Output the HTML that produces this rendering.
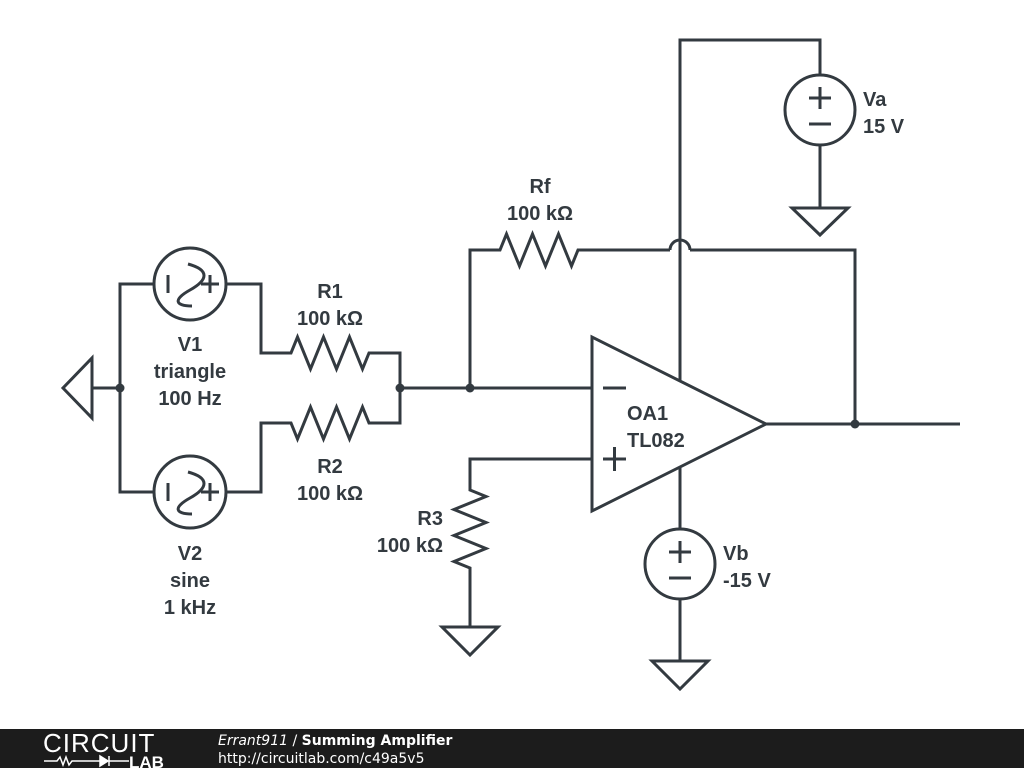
<!DOCTYPE html>
<html><head><meta charset="utf-8"><style>
html,body{margin:0;padding:0;background:#fff;width:1024px;height:768px;overflow:hidden}
svg{display:block}
text{font-family:"Liberation Sans",Arial,sans-serif;font-weight:bold;font-size:20px;fill:#333a40}
</style></head><body>
<svg width="1024" height="768" viewBox="0 0 1024 768">
<g stroke="#333a40" stroke-width="3" fill="none" stroke-linejoin="miter">
<polygon points="92,358 92,418 63,388"/>
<line x1="92" y1="388" x2="120" y2="388"/>
<polyline points="154,284 120,284 120,492 154,492"/>
<circle cx="190" cy="284" r="36"/>
<line x1="168" y1="275" x2="168" y2="293"/>
<path d="M188,264 C210,270 208,280 190,290 C172,300 176,306 192,306"/>
<line x1="201" y1="284" x2="219" y2="284"/><line x1="210" y1="275" x2="210" y2="293"/>
<circle cx="190" cy="492" r="36"/>
<line x1="168" y1="483" x2="168" y2="501"/>
<path d="M188,472 C210,478 208,488 190,498 C172,508 176,514 192,514"/>
<line x1="201" y1="492" x2="219" y2="492"/><line x1="210" y1="483" x2="210" y2="501"/>
<polyline points="226,284 261,284 261,353 291,353 297.5,337 310.5,369 323.5,337 336.5,369 349.5,337 362.5,369 369,353 400,353 400,423 369,423 362.5,407 349.5,439 336.5,407 323.5,439 310.5,407 297.5,439 291,423 261,423 261,492 226,492"/>
<line x1="400" y1="388" x2="592" y2="388"/>
<polyline points="470,388 470,250 500,250 506.5,234 519.5,266 532.5,234 545.5,266 558.5,234 571.5,266 578,250 670,250"/>
<path d="M670,250 A10,10 0 0 1 690,250"/>
<polyline points="690,250 855,250 855,424"/>
<polygon points="592,337 592,511 766,424"/>
<line x1="603" y1="388" x2="626" y2="388"/>
<line x1="603" y1="459" x2="626" y2="459"/><line x1="614.5" y1="447" x2="614.5" y2="471"/>
<line x1="766" y1="424" x2="960" y2="424"/>
<polyline points="592,459 470,459 470,490 486,496.5 454,509.5 486,522.5 454,535.5 486,548.5 454,561.5 470,568 470,627"/>
<polygon points="442,627 498,627 470,655"/>
<polyline points="680,380 680,40 820,40 820,75"/>
<circle cx="820" cy="110" r="35"/>
<line x1="809" y1="98" x2="831" y2="98"/><line x1="820" y1="87" x2="820" y2="109"/>
<line x1="809" y1="124" x2="831" y2="124"/>
<line x1="820" y1="145" x2="820" y2="208"/>
<polygon points="792,208 848,208 820,235"/>
<line x1="680" y1="468" x2="680" y2="529"/>
<circle cx="680" cy="564" r="35"/>
<line x1="669" y1="552" x2="691" y2="552"/><line x1="680" y1="541" x2="680" y2="563"/>
<line x1="669" y1="578" x2="691" y2="578"/>
<line x1="680" y1="599" x2="680" y2="661"/>
<polygon points="652,661 708,661 680,689"/>
</g>
<g fill="#333a40">
<circle cx="120" cy="388" r="4.5"/><circle cx="400" cy="388" r="4.5"/>
<circle cx="470" cy="388" r="4.5"/><circle cx="855" cy="424" r="4.5"/>
</g>
<g text-anchor="middle">
<text x="540" y="193">Rf</text><text x="540" y="220">100 kΩ</text>
<text x="330" y="298">R1</text><text x="330" y="325">100 kΩ</text>
<text x="190" y="351">V1</text><text x="190" y="378">triangle</text><text x="190" y="405">100 Hz</text>
<text x="330" y="473">R2</text><text x="330" y="500">100 kΩ</text>
<text x="190" y="560">V2</text><text x="190" y="587">sine</text><text x="190" y="614">1 kHz</text>
</g>
<g text-anchor="end">
<text x="443" y="525">R3</text><text x="443" y="552">100 kΩ</text>
</g>
<text x="627" y="420">OA1</text><text x="627" y="447">TL082</text>
<text x="863" y="106">Va</text><text x="863" y="133">15 V</text>
<text x="723" y="560">Vb</text><text x="723" y="587">-15 V</text>
<rect x="0" y="729" width="1024" height="39" fill="#1c1c1c"/>
<text x="43" y="752" style="font-weight:normal;font-size:26px;fill:#fff;letter-spacing:1px">CIRCUIT</text>
<g stroke="#fff" stroke-width="1.5" fill="none">
<polyline points="44,761 57,761 60,757 63,765 66,757 69,765 72,761 100,761"/>
<polygon points="100,756 100,766 108,761" fill="#fff"/>
<line x1="109" y1="756" x2="109" y2="766"/><line x1="109" y1="761" x2="129" y2="761"/>
</g>
<text x="129" y="768" style="font-size:17px;fill:#fff">LAB</text>
<text x="218" y="745" style="font-family:'DejaVu Sans',sans-serif;font-size:14px;fill:#fff;font-weight:normal"><tspan font-style="italic">Errant911</tspan> / <tspan font-weight="bold">Summing Amplifier</tspan></text>
<text x="218" y="763" style="font-family:'DejaVu Sans',sans-serif;font-size:14px;fill:#fff;font-weight:normal">http://circuitlab.com/c49a5v5</text>
</svg>
</body></html>
